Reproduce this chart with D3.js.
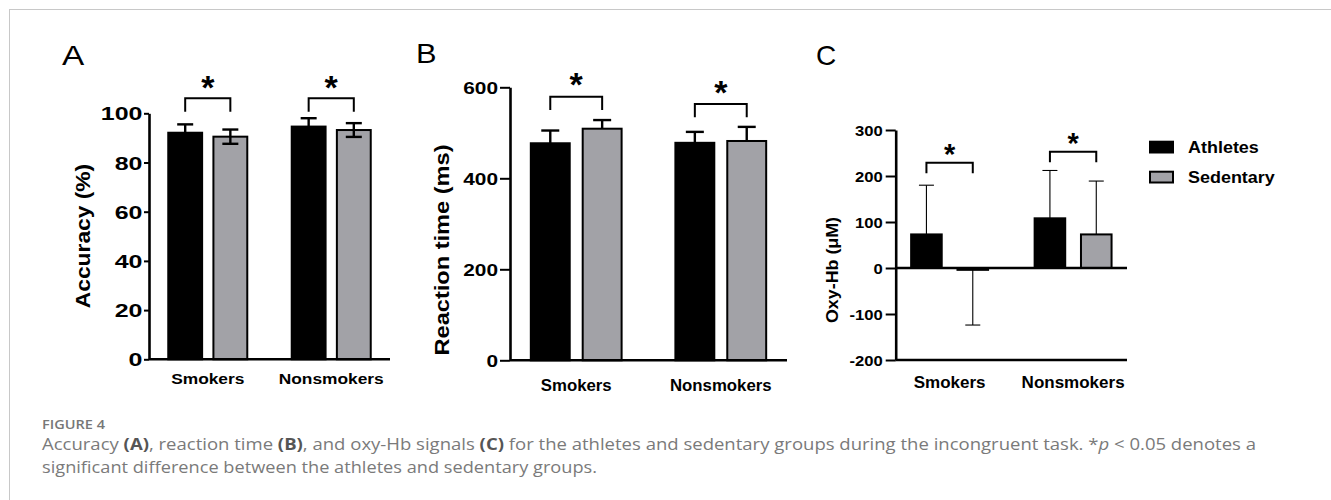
<!DOCTYPE html>
<html>
<head>
<meta charset="utf-8">
<script src="https://cdn.jsdelivr.net/npm/d3@7"></script>
<style>
  html, body { margin: 0; padding: 0; background: #fff; }
  svg { display: block; }
</style>
</head>
<body>
<svg id="fig" width="1331" height="500"></svg>
<script>
// ---------------- data ----------------
const categories = ["Smokers", "Nonsmokers"];
const groups = ["Athletes", "Sedentary"];

const accuracyAthletes = [92.1, 94.6];
const accuracyAthletesErr = [3.4, 3.4];
const accuracySedentary = [90.5, 93.2];
const accuracySedentaryErr = [2.9, 2.8];

const rtAthletes = [477, 478];
const rtAthletesErr = [28, 24];
const rtSedentary = [509, 482];
const rtSedentaryErr = [19, 31];

const oxyAthletes = [73, 108];
const oxyAthletesErr = [107, 104];
const oxySedentary = [-4, 73];
const oxySedentaryErr = [120, 116];

const accuracyTicks = [0, 20, 40, 60, 80, 100];
const rtTicks = [0, 200, 400, 600];
const oxyTicks = [-200, -100, 0, 100, 200, 300];

const significant = ["*", "*"]; // one comparison per category

// ---------------- style ----------------
const FONT = "'Liberation Sans', Arial, Helvetica, sans-serif";
const groupFill = { Athletes: "#000000", Sedentary: "#a2a2a7" };

const svg = d3.select("#fig");

// frame border (left/top visible)
svg.append("rect").attr("x", 9.5).attr("y", 9.5).attr("width", 1400).attr("height", 600)
  .attr("fill", "none").attr("stroke", "#c8c8c8").attr("stroke-width", 1);

function drawPanel(cfg) {
  const g = svg.append("g");
  const y = d3.scaleLinear().domain(cfg.domain).range([cfg.yBot, cfg.yTop]);
  const x = d3.scaleBand().domain(categories).range([cfg.x0, cfg.x1])
    .paddingInner(cfg.pi).paddingOuter(cfg.po);
  const xs = d3.scaleBand().domain(groups).range([0, x.bandwidth()]).paddingInner(cfg.gpi);

  const rows = [];
  categories.forEach((c, i) => {
    groups.forEach((grp, j) => {
      rows.push({ c, grp, v: cfg.values[j][i], e: cfg.errs[j][i] });
    });
  });

  // bars
  g.selectAll("rect.bar").data(rows).join("rect").attr("class", "bar")
    .attr("x", d => x(d.c) + xs(d.grp))
    .attr("width", xs.bandwidth())
    .attr("y", d => y(Math.max(0, d.v)))
    .attr("height", d => Math.abs(y(d.v) - y(0)))
    .attr("fill", d => groupFill[d.grp])
    .attr("stroke", "#000").attr("stroke-width", cfg.barStroke);

  // error bars
  const eb = g.selectAll("g.err").data(rows).join("g").attr("class", "err")
    .attr("stroke", "#000").attr("stroke-width", cfg.errStroke).attr("fill", "none");
  eb.each(function (d) {
    const cx = x(d.c) + xs(d.grp) + xs.bandwidth() / 2;
    const s = d.v >= 0 ? 1 : -1;
    const ends = cfg.bothWays ? [d.v - d.e, d.v + d.e] : [d.v, d.v + s * d.e];
    const el = d3.select(this);
    el.append("line").attr("x1", cx).attr("x2", cx).attr("y1", y(ends[0])).attr("y2", y(ends[1]));
    const capEnds = cfg.bothWays ? ends : [ends[1]];
    capEnds.forEach(v => {
      el.append("line").attr("x1", cx - cfg.cap / 2).attr("x2", cx + cfg.cap / 2)
        .attr("y1", y(v)).attr("y2", y(v));
    });
  });

  // y axis
  const ya = g.append("g").attr("transform", `translate(${cfg.x0},0)`)
    .call(d3.axisLeft(y).tickValues(cfg.ticks).tickSize(cfg.tickLen).tickPadding(cfg.tickPad)
      .tickSizeOuter(0).tickFormat(d => String(d)));
  ya.select(".domain").attr("stroke", "#000").attr("stroke-width", cfg.axisStroke);
  ya.selectAll(".tick line").attr("stroke", "#000").attr("stroke-width", cfg.tickStroke);
  ya.selectAll(".tick text")
    .attr("fill", "#000").attr("font-family", FONT).attr("font-weight", "bold")
    .attr("font-size", cfg.tickFont).attr("dy", "0.36em")
    .attr("transform", `scale(${cfg.tickStretch},1)`)
    .attr("x", -(cfg.tickLen + cfg.tickPad) / cfg.tickStretch);

  // x axis at bottom of domain
  const xa = g.append("g").attr("transform", `translate(0,${y(cfg.domain[0])})`)
    .call(d3.axisBottom(x).tickSize(0).tickSizeOuter(0));
  xa.select(".domain").attr("stroke", "#000").attr("stroke-width", cfg.axisStroke)
    .attr("d", `M${cfg.x0},0H${cfg.x1}`);
  xa.selectAll(".tick text").attr("fill", "#000").attr("font-family", FONT)
    .attr("font-weight", "bold").attr("font-size", cfg.xFont)
    .attr("dy", 0).attr("y", 0)
    .attr("transform", `translate(0,${cfg.xLabelY - y(cfg.domain[0])}) scale(${cfg.xStretch},1)`);

  // zero line when the domain crosses zero
  if (cfg.domain[0] < 0) {
    g.append("line").attr("x1", cfg.x0).attr("x2", cfg.x1)
      .attr("y1", y(0)).attr("y2", y(0))
      .attr("stroke", "#000").attr("stroke-width", cfg.axisStroke);
  }

  // significance brackets
  categories.forEach((c, i) => {
    const xa1 = x(c) + xs(groups[0]) + xs.bandwidth() / 2;
    const xa2 = x(c) + xs(groups[1]) + xs.bandwidth() / 2;
    const by = cfg.bracketY[i];
    g.append("path")
      .attr("d", `M${xa1},${by + cfg.bracketDrop}V${by}H${xa2}V${by + cfg.bracketDrop}`)
      .attr("fill", "none").attr("stroke", "#000").attr("stroke-width", cfg.bracketStroke);
    const sy = by - cfg.starGap;
    g.append("text").text(significant[i])
      .attr("x", (xa1 + xa2) / 2).attr("y", sy + 0.47 * cfg.starFont)
      .attr("text-anchor", "middle").attr("font-family", FONT).attr("font-weight", "bold")
      .attr("font-size", cfg.starFont).attr("fill", "#000");
  });

  // y label
  g.append("text").text(cfg.yLabel)
    .attr("transform", `translate(${cfg.yLabelX},${cfg.yLabelY}) rotate(-90) scale(${cfg.yLabelStretch},1)`)
    .attr("text-anchor", "middle").attr("font-family", FONT).attr("font-weight", "bold")
    .attr("font-size", cfg.yLabelFont).attr("fill", "#000");

  // panel letter
  g.append("text").text(cfg.letter)
    .attr("transform", `translate(${cfg.letterX},${cfg.letterY}) scale(${cfg.letterStretch},1)`)
    .attr("font-family", FONT).attr("font-size", 28).attr("fill", "#000");
}

// Panel A
drawPanel({
  letter: "A", letterX: 62, letterY: 65, letterStretch: 1.19,
  domain: [0, 100], yTop: 113.3, yBot: 359.3, x0: 149, x1: 390,
  pi: 0.36, po: 0.156, gpi: 0.25,
  values: [accuracyAthletes, accuracySedentary], errs: [accuracyAthletesErr, accuracySedentaryErr],
  bothWays: true, cap: 16, errStroke: 2.4, barStroke: 2,
  ticks: accuracyTicks, tickLen: 5, tickPad: 1.5, tickFont: 18.5, tickStretch: 1.35,
  axisStroke: 2.6, tickStroke: 2,
  xFont: 15.5, xStretch: 1.12, xLabelY: 384,
  bracketY: [98.3, 98.3], bracketDrop: 13.4, bracketStroke: 2, starGap: 14.8, starFont: 34,
  yLabel: "Accuracy (%)", yLabelX: 89.5, yLabelY: 236, yLabelFont: 20, yLabelStretch: 1.14
});

// Panel B
drawPanel({
  letter: "B", letterX: 416, letterY: 63.3, letterStretch: 1.1,
  domain: [0, 600], yTop: 87.3, yBot: 360.3, x0: 510, x1: 787,
  pi: 0.372, po: 0.144, gpi: 0.25,
  values: [rtAthletes, rtSedentary], errs: [rtAthletesErr, rtSedentaryErr],
  bothWays: false, cap: 18, errStroke: 2.4, barStroke: 2,
  ticks: rtTicks, tickLen: 10, tickPad: 2, tickFont: 16.3, tickStretch: 1.28,
  axisStroke: 2.6, tickStroke: 2,
  xFont: 16.3, xStretch: 1.03, xLabelY: 390.5,
  bracketY: [96.7, 104], bracketDrop: 13.3, bracketStroke: 2, starGap: 16.2, starFont: 34,
  yLabel: "Reaction time (ms)", yLabelX: 449, yLabelY: 250, yLabelFont: 20, yLabelStretch: 1.18
});

// Panel C
drawPanel({
  letter: "C", letterX: 816, letterY: 65, letterStretch: 1.0,
  domain: [-200, 300], yTop: 130, yBot: 360, x0: 895.7, x1: 1127,
  pi: 0.377, po: 0.125, gpi: 0.34,
  values: [oxyAthletes, oxySedentary], errs: [oxyAthletesErr, oxySedentaryErr],
  bothWays: false, cap: 15, errStroke: 1.1, barStroke: 2,
  ticks: oxyTicks, tickLen: 10, tickPad: 3, tickFont: 15.4, tickStretch: 1.08,
  axisStroke: 2.6, tickStroke: 2,
  xFont: 17, xStretch: 1.0, xLabelY: 388.3,
  bracketY: [162.7, 151.7], bracketDrop: 10.5, bracketStroke: 2, starGap: 12.5, starFont: 29,
  yLabel: "Oxy-Hb (μM)", yLabelX: 837.5, yLabelY: 270, yLabelFont: 17, yLabelStretch: 1.05
});

// Legend
const legend = svg.append("g");
groups.forEach((grp, i) => {
  const top = [141.7, 171.7][i];
  legend.append("rect").attr("x", 1150).attr("y", top).attr("width", 23).attr("height", 10.8)
    .attr("fill", groupFill[grp]).attr("stroke", "#000").attr("stroke-width", 2);
  legend.append("text").text(grp)
    .attr("transform", `translate(1188,${top + 11.2}) scale(1.07,1)`)
    .attr("font-family", FONT).attr("font-weight", "bold").attr("font-size", 16.8).attr("fill", "#000");
});

// Caption
const CAP = "'Open Sans', 'Noto Sans', sans-serif";
svg.append("text").text("FIGURE 4").attr("x", 42).attr("y", 429)
  .attr("textLength", 63).attr("lengthAdjust", "spacingAndGlyphs")
  .attr("font-family", CAP).attr("font-weight", 600).attr("font-size", 12.5).attr("fill", "#777");

const line1 = svg.append("text").attr("x", 42).attr("y", 450)
  .attr("textLength", 1214).attr("lengthAdjust", "spacingAndGlyphs")
  .attr("font-family", CAP).attr("font-size", 15.5).attr("fill", "#7a7a7a");
[["Accuracy ", false], ["(A)", true], [", reaction time ", false], ["(B)", true],
 [", and oxy-Hb signals ", false], ["(C)", true],
 [" for the athletes and sedentary groups during the incongruent task. *", false]]
  .forEach(([t, b]) => line1.append("tspan").text(t)
    .attr("font-weight", b ? 700 : 400).attr("fill", b ? "#555" : "#7a7a7a"));
line1.append("tspan").text("p").attr("font-style", "italic");
line1.append("tspan").text(" < 0.05 denotes a");

svg.append("text").attr("x", 42).attr("y", 473)
  .attr("textLength", 555).attr("lengthAdjust", "spacingAndGlyphs")
  .attr("font-family", CAP).attr("font-size", 15.5).attr("fill", "#7a7a7a")
  .text("significant difference between the athletes and sedentary groups.");
</script>
</body>
</html>
